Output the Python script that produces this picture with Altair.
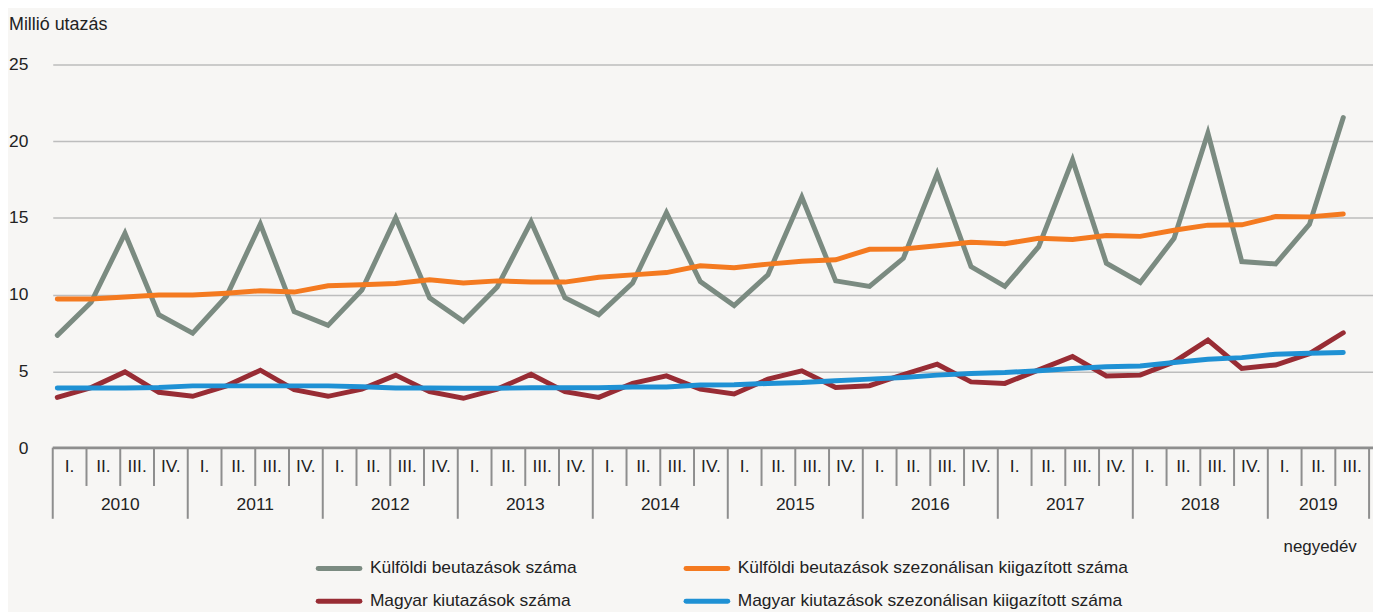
import altair as alt
import pandas as pd

# ---------------- data ----------------
years = ["2010", "2011", "2012", "2013", "2014", "2015", "2016", "2017", "2018", "2019"]
quarter_names = ["I.", "II.", "III.", "IV."]

kulfoldi = [7.35, 9.5, 14.0, 8.7, 7.5, 9.9, 14.6, 8.9, 8.0, 10.3, 15.0, 9.8,
            8.27, 10.5, 14.75, 9.8, 8.7, 10.76, 15.35, 10.86, 9.29, 11.3, 16.36, 10.9,
            10.54, 12.37, 17.88, 11.83, 10.54, 13.13, 18.78, 12.05, 10.8, 13.67, 20.53, 12.16,
            12.0, 14.58, 21.54]
kulfoldi_sa = [9.72, 9.72, 9.85, 9.98, 9.98, 10.1, 10.26, 10.17, 10.58, 10.65, 10.73, 10.97,
               10.76, 10.9, 10.82, 10.82, 11.14, 11.29, 11.44, 11.88, 11.75, 11.99, 12.18, 12.27,
               12.96, 12.98, 13.19, 13.41, 13.32, 13.67, 13.6, 13.86, 13.8, 14.2, 14.53, 14.55,
               15.09, 15.07, 15.26]
magyar = [3.31, 3.95, 4.97, 3.64, 3.38, 4.06, 5.08, 3.81, 3.38, 3.85, 4.76, 3.68,
          3.25, 3.85, 4.82, 3.68, 3.31, 4.22, 4.71, 3.85, 3.53, 4.5, 5.04, 3.96,
          4.07, 4.8, 5.47, 4.32, 4.22, 5.1, 5.97, 4.71, 4.76, 5.62, 7.04, 5.19,
          5.42, 6.16, 7.52]
magyar_sa = [3.92, 3.92, 3.92, 3.96, 4.06, 4.06, 4.06, 4.06, 4.06, 4.0, 3.92, 3.92,
             3.9, 3.9, 3.94, 3.94, 3.94, 3.98, 3.98, 4.11, 4.13, 4.22, 4.28, 4.39,
             4.5, 4.61, 4.76, 4.87, 4.93, 5.04, 5.19, 5.3, 5.36, 5.58, 5.79, 5.9,
             6.12, 6.18, 6.23]

series_names = ["Külföldi beutazások száma",
                "Külföldi beutazások szezonálisan kiigazított száma",
                "Magyar kiutazások száma",
                "Magyar kiutazások szezonálisan kiigazított  száma"]
series_values = [kulfoldi, kulfoldi_sa, magyar, magyar_sa]
series_colors = ["#7B8B81", "#F47A20", "#982C34", "#1F91D4"]

# ---------------- layout constants ----------------
FONT = "Liberation Sans"
FS = 17.5
TXT = "#222222"
W, H = 1328, 386
BAND_PX = 33.95
XMAX = W / BAND_PX
STEP = 34.04 / 33.95
OFFSET = 0.135
n = len(kulfoldi)

rows = []
for name, vals in zip(series_names, series_values):
    for i, v in enumerate(vals):
        rows.append({"series": name, "idx": i, "value": v,
                     "pos": OFFSET + i * STEP})
df = pd.DataFrame(rows)

one = pd.DataFrame({"k": [0]})

xscale = alt.Scale(domain=[0, XMAX], nice=False, zero=False)
yscale = alt.Scale(domain=[0, 25], nice=False)

# category axis data
qdf = pd.DataFrame({"pos": [i + 0.5 for i in range(n)],
                    "label": [quarter_names[i % 4] for i in range(n)]})
edges = pd.DataFrame({"pos": list(range(n + 1))})
edges["year_edge"] = [(j % 4 == 0) or (j == n) for j in range(n + 1)]
ydf = pd.DataFrame({"year": years,
                    "pos": [4 * k + min(4, n - 4 * k) / 2 for k in range(len(years))]})

# grid + y axis
grid = alt.Chart(df).mark_line(opacity=0).encode(
    x=alt.X("pos:Q", scale=xscale, axis=None),
    y=alt.Y("value:Q", scale=yscale,
            axis=alt.Axis(values=[0, 5, 10, 15, 20, 25], grid=True, gridColor="#BDBDBD",
                          gridWidth=1.5, domain=False, ticks=False, labelPadding=25,
                          labelFont=FONT, labelFontSize=FS, labelColor=TXT,
                          title=None)),
)

draw_order = [0, 2, 1, 3]
lines = []
for k in draw_order:
    lines.append(
        alt.Chart(df).transform_filter(alt.datum.series == series_names[k])
        .mark_line(strokeWidth=5, strokeCap="round", color=series_colors[k])
        .encode(x=alt.X("pos:Q", scale=xscale, axis=None),
                y=alt.Y("value:Q", scale=yscale))
    )

AX_COL = "#8E8E8E"
baseline = alt.Chart(one).mark_rule(color=AX_COL, strokeWidth=2.5).encode(
    x=alt.value(0), x2=alt.value(W), y=alt.value(385.5))

qdiv = alt.Chart(edges).transform_filter(~alt.datum.year_edge).mark_rule(
    color=AX_COL, strokeWidth=2).encode(
    x=alt.X("pos:Q", scale=xscale), y=alt.value(385.5), y2=alt.value(424))
ydiv = alt.Chart(edges).transform_filter(alt.datum.year_edge).mark_rule(
    color=AX_COL, strokeWidth=2).encode(
    x=alt.X("pos:Q", scale=xscale), y=alt.value(385.5), y2=alt.value(457))

qlab = alt.Chart(qdf).mark_text(font=FONT, fontSize=FS, color=TXT,
                                baseline="middle", align="center").encode(
    x=alt.X("pos:Q", scale=xscale), y=alt.value(405), text="label:N")
ylab = alt.Chart(ydf).mark_text(font=FONT, fontSize=FS, color=TXT,
                                baseline="middle", align="center").encode(
    x=alt.X("pos:Q", scale=xscale), y=alt.value(443), text="year:N")

title = alt.Chart(one).mark_text(font=FONT, fontSize=18, color=TXT,
                                 align="left", baseline="alphabetic",
                                 text="Millió utazás").encode(
    x=alt.value(-44), y=alt.value(-35))
negyedev = alt.Chart(one).mark_text(font=FONT, fontSize=17, color=TXT,
                                    align="left", baseline="middle",
                                    text="negyedév").encode(
    x=alt.value(1238), y=alt.value(485))

# legend
legend_layers = []
leg_pos = [(267, 507), (637, 507), (267, 540), (637, 540)]
for k, (lx, ly) in enumerate(leg_pos):
    legend_layers.append(
        alt.Chart(one).mark_rule(strokeWidth=5, strokeCap="round",
                                 color=series_colors[k]).encode(
            x=alt.value(lx), x2=alt.value(lx + 42), y=alt.value(ly)))
    legend_layers.append(
        alt.Chart(one).mark_text(font=FONT, fontSize=FS, color=TXT,
                                 align="left", baseline="middle",
                                 text=series_names[k]).encode(
            x=alt.value(lx + 52), y=alt.value(ly)))

chart = alt.layer(grid, *lines, baseline, qdiv, ydiv, qlab, ylab, title, negyedev,
                  *legend_layers).properties(
    width=W, height=H,
    padding={"left": 45, "top": 55, "right": 0, "bottom": 163},
    autosize=alt.AutoSizeParams(type="none"),
    background="#F7F6F4",
).configure_view(stroke=None)

chart.save("out.html", embed_options={"renderer": "svg", "actions": False})
